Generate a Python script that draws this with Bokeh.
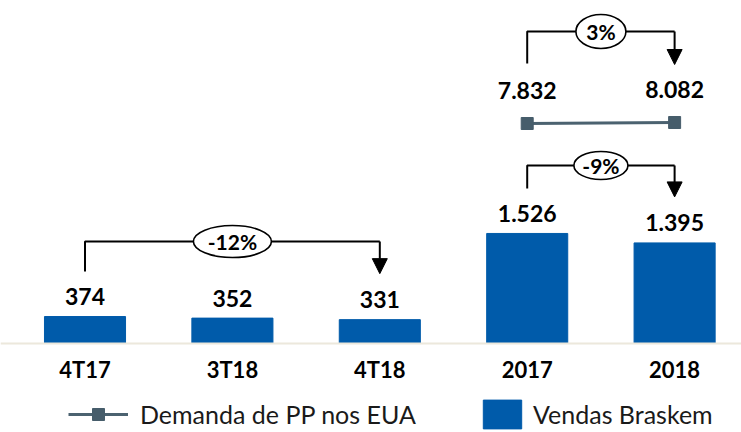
from bokeh.plotting import figure
from bokeh.models import (Range1d, FixedTicker, Legend, LegendItem, Arrow,
                          NormalHead, ColumnDataSource)
from bokeh.core.properties import value
from bokeh.embed import file_html
from bokeh.resources import INLINE

# ---------------- data ----------------
categories = ["4T17", "3T18", "4T18", "2017", "2018"]
vendas_braskem = [374, 352, 331, 1526, 1395]
demanda_categories = ["2017", "2018"]
demanda_pp_eua = [7832, 8082]
vendas_changes = [("4T17", "4T18", "-12%"), ("2017", "2018", "-9%")]
demanda_change = ("2017", "2018", "3%")


def fmt(v):
    return f"{v:,}".replace(",", ".")


# ---------------- styling / layout ----------------
BLUE = "#005BAA"
LINE_C = "#4B6270"
SQ_C = "#465D6B"
FONT = "Lato"
W, H = 741, 432
BASE_PX = 343                      # screen row of the zero line
K1 = 0.07211                       # px per unit, primary axis
Y_START, Y_END = -(H - BASE_PX) / K1, BASE_PX / K1
K2 = 0.004                         # px per unit, secondary axis
Y2_START = 7832 - (H - 123) / K2
Y2_END = Y2_START + H / K2

p = figure(width=W, height=H, output_backend="svg", toolbar_location=None,
           x_range=Range1d(-0.5733, 4.4538), y_range=Range1d(Y_START, Y_END),
           min_border_left=0, min_border_right=0, min_border_top=0,
           min_border_bottom=0)
p.yaxis.visible = False
p.extra_y_ranges = {"pp": Range1d(Y2_START, Y2_END)}
p.outline_line_color = None
p.grid.visible = False
p.background_fill_color = "white"
p.border_fill_color = "white"

xi = {c: i for i, c in enumerate(categories)}

# bars
bar_src = ColumnDataSource(dict(x=[xi[c] for c in categories], top=vendas_braskem,
                                label=[fmt(v) for v in vendas_braskem]))
bar_r = p.vbar(x="x", top="top", bottom=0, width=0.55, source=bar_src,
               fill_color=BLUE, line_color=BLUE)
p.text(x="x", y="top", text="label", source=bar_src, text_font=value(FONT),
       text_font_style="bold", text_font_size="23px", text_align="center",
       text_baseline="middle", y_offset=-20, text_color="black")

# line (secondary range)
line_src = ColumnDataSource(dict(x=[xi[c] for c in demanda_categories], y=demanda_pp_eua,
                                 label=[fmt(v) for v in demanda_pp_eua]))
line_r = p.line(x="x", y="y", source=line_src, y_range_name="pp",
                line_color=LINE_C, line_width=3)
sq_r = p.scatter(x="x", y="y", source=line_src, y_range_name="pp", marker="square",
                 size=12, fill_color=SQ_C, line_color=SQ_C)
p.text(x="x", y="y", text="label", source=line_src, y_range_name="pp",
       text_font=value(FONT), text_font_style="bold", text_font_size="23px",
       text_align="center", text_baseline="middle", y_offset=-33, text_color="black")


def bracket(x0, x1, y_bottom, y_level, y_tip, label, ew, eh, rname="default"):
    p.line(x=[x0, x0, x1], y=[y_bottom, y_level, y_level], line_color="black",
           line_width=2, y_range_name=rname)
    p.add_layout(Arrow(x_start=x1, y_start=y_level, x_end=x1, y_end=y_tip,
                       line_color="black", line_width=2, y_range_name=rname,
                       end=NormalHead(size=15, fill_color="black", line_color="black")))
    p.ellipse(x=[(x0 + x1) / 2], y=[y_level], width=ew, height=eh,
              width_units="screen", height_units="screen", fill_color="white",
              line_color="black", line_width=1.6, y_range_name=rname)
    p.text(x=[(x0 + x1) / 2], y=[y_level], text=[label], text_font=value(FONT),
           text_font_style="bold", text_font_size="21px", text_align="center",
           text_baseline="middle", text_color="black", y_range_name=rname)


vals = dict(zip(categories, vendas_braskem))
rises = {"-12%": 75, "-9%": 68}
sizes = {"-12%": (78, 32), "-9%": (54, 28)}
for a, b, lab in vendas_changes:
    va, vb = vals[a], vals[b]
    bracket(xi[a], xi[b], va + 45 / K1, va + rises[lab] / K1, vb + 46 / K1, lab,
            sizes[lab][0], sizes[lab][1])

dv = dict(zip(demanda_categories, demanda_pp_eua))
a, b, lab = demanda_change
bracket(xi[a], xi[b], dv[a] + 60 / K2, dv[a] + 92 / K2, dv[b] + 58 / K2, lab, 50, 34, "pp")

# x axis drawn at the zero line inside the frame
ax = p.xaxis[0]
ax.fixed_location = 0
ax.ticker = FixedTicker(ticks=list(range(len(categories))))
ax.major_label_overrides = {i: c for i, c in enumerate(categories)}
ax.major_label_text_font = FONT
ax.major_label_text_font_style = "bold"
ax.major_label_text_font_size = "22px"
ax.major_label_text_color = "black"
ax.axis_line_color = "#ECE8DC"
ax.axis_line_width = 2
ax.major_tick_line_color = None
ax.minor_tick_line_color = None
ax.major_tick_out = 0
ax.major_tick_in = 0
ax.major_label_standoff = 12

# legends
common = dict(orientation="horizontal", padding=0, margin=0, spacing=0,
              border_line_color=None, background_fill_alpha=0,
              label_text_font=FONT, label_text_font_size="25px",
              label_text_color="#1A1A1A")
leg1 = Legend(items=[LegendItem(label="Demanda de PP nos EUA", renderers=[line_r, sq_r])],
              location=(68, 3), glyph_width=60, glyph_height=30, label_height=30,
              label_standoff=12, **common)
leg2 = Legend(items=[LegendItem(label="Vendas Braskem", renderers=[bar_r])],
              location=(478, 0), glyph_width=48, glyph_height=36, label_height=36,
              label_standoff=7, **common)
p.add_layout(leg1)
p.add_layout(leg2)

open("out.html", "w").write(file_html(p, INLINE))
